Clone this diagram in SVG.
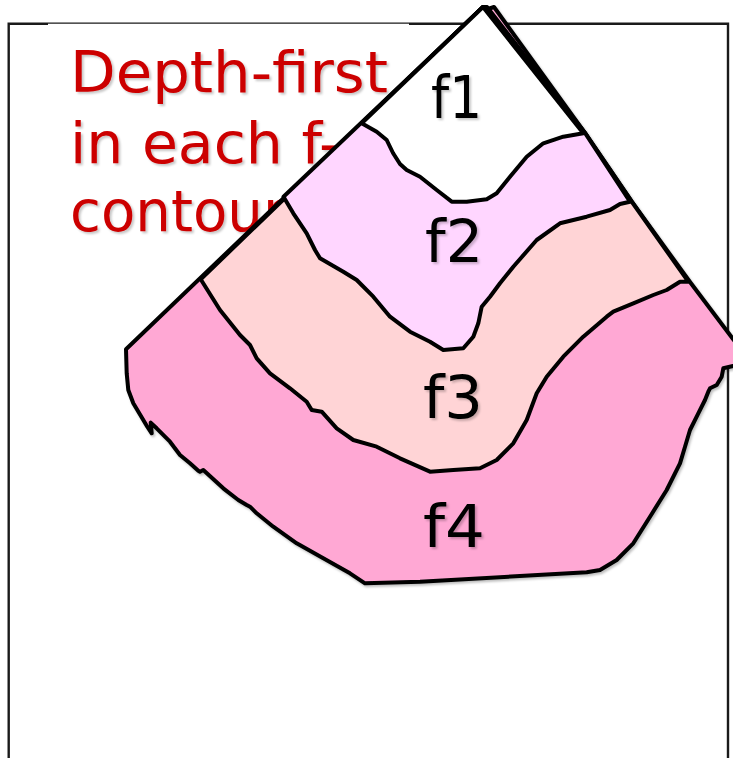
<svg xmlns="http://www.w3.org/2000/svg" width="733" height="758" viewBox="0 0 733 758">
  <defs>
    <filter id="tshadow" x="-10%" y="-10%" width="130%" height="130%">
      <feDropShadow dx="2" dy="2" stdDeviation="1" flood-color="#000" flood-opacity="0.22"/>
    </filter>
    <filter id="sshadow" x="-5%" y="-5%" width="115%" height="115%">
      <feDropShadow dx="1.5" dy="2" stdDeviation="0.8" flood-color="#000" flood-opacity="0.25"/>
    </filter>
  </defs>
  <style>
    .region { stroke: #000; stroke-width: 4; stroke-linejoin: round; stroke-linecap: round; }
    .lbl { font-family: "DejaVu Sans", "Liberation Sans", sans-serif; font-size: 58px; fill: #000; filter: url(#tshadow); }
    .cap { font-family: "DejaVu Sans", "Liberation Sans", sans-serif; font-size: 57px; fill: #CC0000; filter: url(#tshadow); }
    .fr { stroke: #1a1a1a; fill: none; }
  </style>
  <rect width="733" height="758" fill="#fff"/>
  <g id="frame">
    <path class="fr" stroke-width="2.4" d="M48,23.8 H8.7 V800 M409,23.8 H728 V800"/>
    <path class="fr" stroke-width="1.2" d="M48,23.2 H409"/>
  </g>
  <g id="caption">
    <text class="cap" x="70" y="92" textLength="318" lengthAdjust="spacingAndGlyphs">Depth-first</text>
    <text class="cap" x="70" y="163" textLength="270" lengthAdjust="spacingAndGlyphs">in each f-</text>
    <text class="cap" x="70" y="231" textLength="216" lengthAdjust="spacingAndGlyphs">contour</text>
  </g>
  <g id="shape" filter="url(#sshadow)">
    <g id="f4">
      <polygon class="region" fill="#FFA8D4" points="483,7 488,9 494,7 585,133 632,202 690,282 733,339 748,358 740,366 733,366 723.3,368.3 721.7,376.7 716.7,385 710,388.3 708.3,391.7 705,400 698.3,413.3 690,430 685,446.7 680,463.3 666.7,490 650,516.7 633.3,543.3 616.7,560 600,570 586.7,572.3 420,581.7 365,583.3 350,573.3 323.3,558.3 296.7,543.3 273.3,526.7 256.7,513.3 250,506.7 246.7,505 238.3,500 223.3,488.3 203.3,470 200,471.7 198.3,470.7 190,463.3 180,455 170,441.7 156.7,428.3 150.7,422.7 151.7,433.3 147.3,426.7 143.3,420 133.3,403.3 128.3,390 126.7,373.3 126,349.3"/>
    </g>
    <g id="f3">
      <polygon class="region" fill="#FFD4D6" points="483,7 487,7 585,133 632,202 688.3,281.7 680,281.7 666.7,290 653.3,295 633.3,303.3 613.3,311.7 606.7,316.7 583.3,336.7 563.3,356.7 546.7,376.7 536.7,393.3 526.7,420 513.3,443.3 496.7,460 480,468.3 453.3,470 430,471.7 400,458.3 376.7,446.7 353.3,440 336.7,428.3 321.7,411.7 311.7,410 306.7,401.7 290,388.3 270,373.3 256.7,358.3 250,345 240,335 220,310 200.7,279.3"/>
    </g>
    <g id="f2">
      <polygon class="region" fill="#FFD6FF" points="483,7 486,7 585,133 630,201.7 620,204 610,210 586.7,216.7 560,223.3 536.7,240 513.3,266.7 500,283.3 490,296.7 481.7,306.7 478.3,323.3 473.3,336.7 463.3,348.3 443.3,350 430,341.7 410,331.7 390,316.7 373.3,296.7 356.7,280 343.3,271.7 320,258.3 315,250 306.7,233.3 293.3,213.3 283.5,196.7"/>
    </g>
    <g id="f1">
      <polygon class="region" fill="#FFFFFF" points="483,7 583.3,133.3 563.3,136.7 543.3,143.3 526.7,156.7 510,176.7 496.7,193.3 486.7,199.3 466.7,201.7 451.7,201.7 436.7,190 420,176.7 406.7,170 400,164 393,153 386.7,140 376.7,131.7 361.7,123.3"/>
    </g>
  </g>
  <g id="labels">
    <text class="lbl" x="431" y="118" textLength="51" lengthAdjust="spacingAndGlyphs">f1</text>
    <text class="lbl" x="425" y="262" textLength="58" lengthAdjust="spacingAndGlyphs">f2</text>
    <text class="lbl" x="423" y="418" textLength="60" lengthAdjust="spacingAndGlyphs">f3</text>
    <text class="lbl" x="423" y="547" textLength="62" lengthAdjust="spacingAndGlyphs">f4</text>
  </g>
</svg>
